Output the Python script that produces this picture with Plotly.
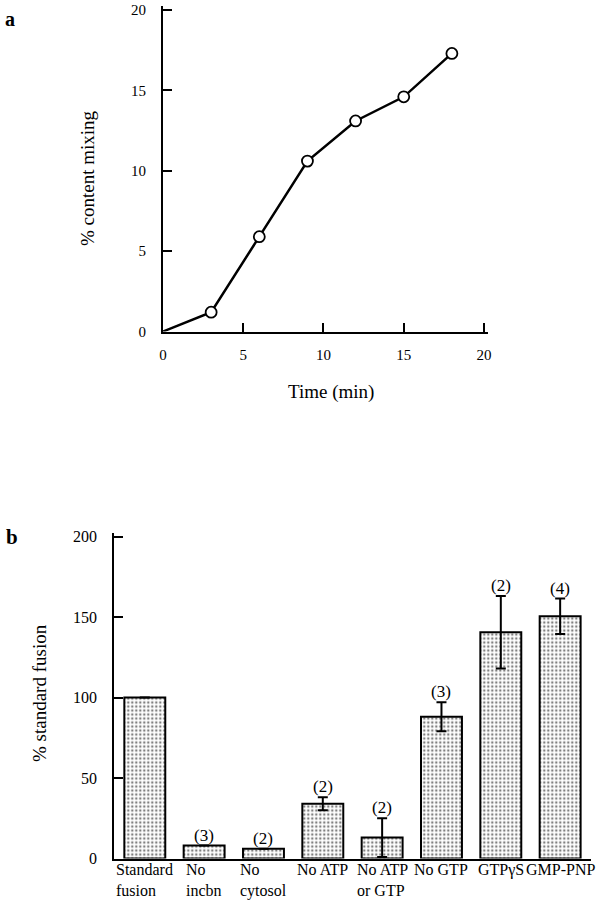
import plotly.graph_objects as go

# ---- Panel a data ----
time_min = [0, 3, 6, 9, 12, 15, 18]
content_mixing = [0, 1.2, 5.9, 10.6, 13.1, 14.6, 17.3]
a_ticks = [0, 5, 10, 15, 20]

# ---- Panel b data ----
categories = ["Standard fusion", "No incbn", "No cytosol", "No ATP",
              "No ATP or GTP", "No GTP", "GTPγS", "GMP-PNP"]
cat_labels = ["Standard<br>fusion", "No<br>incbn", "No<br>cytosol", "No ATP",
              "No ATP<br>or GTP", "No GTP", "GTPγS", "GMP-PNP"]
fusion_pct = [100, 8, 6, 34, 13, 88, 140.5, 150.5]
fusion_err = [None, None, None, 4, 12, 9, 22.5, 11]
n_labels = ["", "(3)", "(2)", "(2)", "(2)", "(3)", "(2)", "(4)"]
b_ticks = [0, 50, 100, 150, 200]

W, H = 606, 900
FONT = "Liberation Serif"


def px(x):
    return x / W


def py(y):
    return 1 - y / H


fig = go.Figure()

# panel a line
fig.add_trace(go.Scatter(
    x=time_min, y=content_mixing, mode="lines",
    line=dict(color="black", width=2.5),
    xaxis="x", yaxis="y", hoverinfo="skip", cliponaxis=False))
fig.add_trace(go.Scatter(
    x=time_min[1:], y=content_mixing[1:], mode="markers",
    marker=dict(symbol="circle", size=11, color="white",
                line=dict(color="black", width=1.8)),
    xaxis="x", yaxis="y", cliponaxis=False))

# panel b bars
fig.add_trace(go.Bar(
    x=categories, y=fusion_pct, width=0.69,
    marker=dict(color="white", line=dict(color="black", width=2),
                pattern=dict(shape=".", fgcolor="black", bgcolor="white",
                             size=4, solidity=0.3)),
    error_y=dict(type="data", array=fusion_err, symmetric=True,
                 color="black", thickness=2, width=5),
    xaxis="x2", yaxis="y2"))

axis_common = dict(showline=True, linecolor="black", linewidth=2,
                   showgrid=False, zeroline=False, ticks="inside",
                   ticklen=9, tickwidth=2.2, tickcolor="black",
                   tickfont=dict(family=FONT, size=15, color="black"),
                   ticklabeloverflow="allow",
                   automargin=False, fixedrange=True)

# ranges extended ~4 px beyond the last tick so that end ticks are drawn
fig.update_layout(
    width=W, height=H,
    margin=dict(l=0, r=0, t=0, b=0),
    paper_bgcolor="white", plot_bgcolor="white",
    showlegend=False,
    font=dict(family=FONT, color="black"),
    xaxis=dict(domain=[px(163), px(488)], range=[0, 20.25], tickvals=a_ticks,
               anchor="y", ticklabelstandoff=8, **axis_common),
    yaxis=dict(domain=[py(331.5), py(6)], range=[0, 20.25], tickvals=a_ticks,
               anchor="x", ticklabelstandoff=12, **axis_common),
    xaxis2=dict(domain=[px(114.3), px(591)], range=[-0.514, 7.52],
                type="category", anchor="y2", showticklabels=False,
                **{k: v for k, v in axis_common.items() if k != "ticks"},
                ticks=""),
    yaxis2=dict(domain=[py(858.5), py(532.5)], range=[0, 202.5], tickvals=b_ticks,
                anchor="x2", ticklabelstandoff=12,
                **{k: (dict(family=FONT, size=16, color="black") if k == "tickfont" else v)
                   for k, v in axis_common.items()}),
)

ann = []


def add_text(text, x, y, size, angle=0):
    ann.append(dict(text=text, x=px(x), y=py(y), xref="paper", yref="paper",
                    xanchor="center", yanchor="middle", showarrow=False,
                    textangle=angle, font=dict(family=FONT, size=size)))


# panel letters
add_text("<b>a</b>", 10, 19, 20)
add_text("<b>b</b>", 12, 537, 21)
# axis titles
add_text("% content mixing", 87, 178, 19, -90)
add_text("Time (min)", 331, 392, 19)
add_text("% standard fusion", 39, 693, 19, -90)
# category labels
for c, lab in zip(categories, cat_labels):
    ann.append(dict(text=lab, x=c, y=py(858.5), xref="x2", yref="paper",
                    xanchor="center", yanchor="top", align="left",
                    showarrow=False, yshift=0,
                    font=dict(family=FONT, size=16)))
# replicate counts
for c, v, e, n in zip(categories, fusion_pct, fusion_err, n_labels):
    if n:
        ann.append(dict(text=n, x=c, y=v + (e or 0), xref="x2", yref="y2",
                        xanchor="center", yanchor="bottom", showarrow=False,
                        yshift=-1, font=dict(family=FONT, size=17)))
fig.update_layout(annotations=ann)

fig.write_html("out.html", config={"displayModeBar": False},
               post_script="document.body.style.margin='0px';")
